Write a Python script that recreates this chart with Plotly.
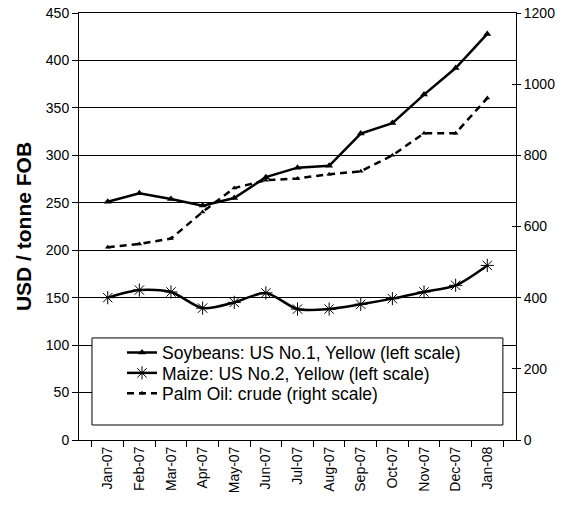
import plotly.graph_objects as go

months = ["Jan-07", "Feb-07", "Mar-07", "Apr-07", "May-07", "Jun-07", "Jul-07",
          "Aug-07", "Sep-07", "Oct-07", "Nov-07", "Dec-07", "Jan-08"]
soybeans = [251, 260, 254, 247, 255, 277, 287, 289, 323, 334, 364, 392, 428]
maize = [150, 158, 156, 139, 145, 155, 138, 138, 143, 149, 156, 163, 184]
palm_oil = [542, 551, 566, 641, 708, 730, 735, 747, 755, 800, 862, 862, 961]

left_ticks = list(range(0, 451, 50))
right_ticks = list(range(0, 1201, 200))

FONT = "Liberation Sans, Arial, sans-serif"

fig = go.Figure()
fig.add_trace(go.Scatter(
    x=months, y=soybeans, name="Soybeans: US No.1, Yellow (left scale)",
    mode="lines+markers", line=dict(color="black", width=2.5),
    marker=dict(symbol="triangle-up", size=7, color="black"), yaxis="y",
    legend="legend"))
fig.add_trace(go.Scatter(
    x=months, y=maize, name="Maize: US No.2, Yellow (left scale)",
    mode="lines+markers", line=dict(color="black", width=2.5, shape="spline", smoothing=0.8),
    marker=dict(symbol="asterisk-open", size=11, line=dict(color="black", width=1)), yaxis="y",
    legend="legend2"))
fig.add_trace(go.Scatter(
    x=months, y=palm_oil, name="Palm Oil: crude (right scale)",
    mode="lines+markers", line=dict(color="black", width=2.5, dash="7px,5px"),
    marker=dict(symbol="triangle-up", size=5, color="black"), yaxis="y2",
    legend="legend3"))
# invisible trace to activate yaxis3 (inside half of the crossing ticks)
fig.add_trace(go.Scatter(x=[months[0]], y=[0], yaxis="y3", mode="markers",
                         marker=dict(opacity=0), showlegend=False, hoverinfo="skip"))

def leg(yc):
    return dict(x=0.0984, y=yc, xanchor="left", yanchor="middle",
                bgcolor="rgba(0,0,0,0)", borderwidth=0,
                font=dict(size=17.5, family=FONT, color="black"), itemwidth=30)

fig.update_layout(
    width=573, height=505,
    margin=dict(l=79, r=57, t=13, b=65, autoexpand=False),
    paper_bgcolor="white", plot_bgcolor="white",
    font=dict(family=FONT, size=14, color="black"),
    showlegend=True,
    legend=leg(0.2049), legend2=leg(0.1569), legend3=leg(0.1089),
    xaxis=dict(type="category", tickson="boundaries", ticks="outside", ticklen=6,
               tickcolor="black", showline=True, mirror=True, linecolor="black", linewidth=1,
               tickangle=-90, showgrid=False, tickfont=dict(size=14), automargin=False),
    yaxis=dict(range=[0, 450], tickvals=left_ticks, ticks="outside", ticklen=6,
               tickcolor="black", showline=True, linecolor="black", linewidth=1,
               showgrid=True, gridcolor="black", gridwidth=1, zeroline=False,
               automargin=False, ticklabeloverflow="allow",
               title=dict(text="<b>USD / tonne FOB</b>", font=dict(size=21), standoff=8)),
    yaxis2=dict(range=[0, 1200], tickvals=right_ticks, overlaying="y", side="right",
                ticks="outside", ticklen=4, tickcolor="black", showline=True,
                linecolor="black", linewidth=1, showgrid=False, zeroline=False,
                automargin=False, ticklabeloverflow="allow"),
    yaxis3=dict(range=[0, 1200], tickvals=right_ticks, overlaying="y", side="right",
                ticks="inside", ticklen=4, tickcolor="black", showticklabels=False,
                showline=False, showgrid=False, zeroline=False, automargin=False),
    shapes=[dict(type="rect", xref="paper", yref="paper", x0=0.0297, x1=0.970,
                 y0=0.0351, y1=0.239, fillcolor="white",
                 line=dict(color="black", width=1), layer="above")],
)

# remove the browser's default 8px page margin so the figure sits at the window's corner
fig.write_html("out.html", config={"displayModeBar": False},
               post_script="document.body.style.margin='0';")
